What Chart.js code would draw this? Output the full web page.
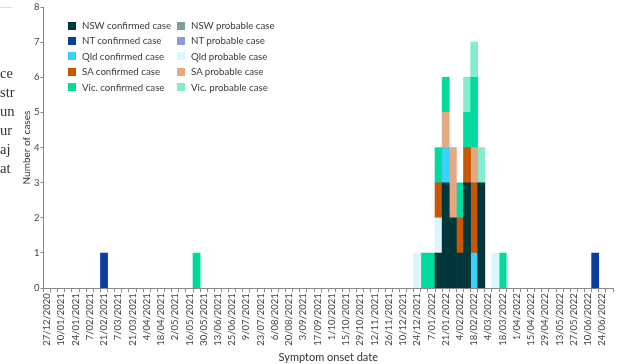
<!DOCTYPE html>
<html>
<head>
<meta charset="utf-8">
<script src="https://cdn.jsdelivr.net/npm/chart.js@4.4.0/dist/chart.umd.min.js"></script>
<style>
  body { margin: 0; background: #fff; }
  #wrap { position: relative; width: 619px; height: 364px; overflow: hidden; }
  #legend { position: absolute; left: 68px; top: 19px; display: grid; grid-template-columns: 109px 130px; grid-auto-rows: 15.4px; font: 9.7px Lato, sans-serif; color: #3a3a3a; }
  #legend .item { line-height: 12px; white-space: nowrap; }
  #legend .box { display: inline-block; width: 8px; height: 8px; margin-right: 6px; vertical-align: -0.5px; }
  #side { position: absolute; left: 0; top: 0; width: 15px; height: 220px; overflow: hidden; font: 14.5px "Liberation Serif", serif; color: #333; }
  #side div { position: absolute; left: 0; }
  #side .rule { top: 7px; width: 12px; height: 1px; background: #ddd; }
</style>
</head>
<body>
<div id="wrap">
  <canvas id="caseChart" width="619" height="364"></canvas>
  <div id="legend"></div>
  <div id="side">
    <div class="rule"></div>
    <div style="top:65px">ce</div>
    <div style="top:84px">str</div>
    <div style="top:103px">un</div>
    <div style="top:122px">ur</div>
    <div style="top:141px">aj</div>
    <div style="top:160px">at</div>
  </div>
</div>
<script>
const FONT = 'Lato, sans-serif';

// every second week is labelled on the axis
const tickLabels = ['27/12/2020', '10/01/2021', '24/01/2021', '7/02/2021', '21/02/2021', '7/03/2021',
    '21/03/2021', '4/04/2021', '18/04/2021', '2/05/2021', '16/05/2021', '30/05/2021', '13/06/2021',
    '25/06/2021', '9/07/2021', '23/07/2021', '6/08/2021', '20/08/2021', '3/09/2021', '17/09/2021',
    '1/10/2021', '15/10/2021', '29/10/2021', '12/11/2021', '26/11/2021', '10/12/2021', '24/12/2021',
    '7/01/2022', '21/01/2022', '4/02/2022', '18/02/2022', '4/03/2022', '18/03/2022', '1/04/2022',
    '15/04/2022', '29/04/2022', '13/05/2022', '27/05/2022', '10/06/2022', '24/06/2022'];

// weekly counts, 80 weeks
const nswConfirmed = [
    0,0,0,0,0,0,0,0,0,0, 0,0,0,0,0,0,0,0,0,0, 0,0,0,0,0,0,0,0,0,0, 0,0,0,0,0,0,0,0,0,0,
    0,0,0,0,0,0,0,0,0,0, 0,0,0,0,0,1,3,2,1,3, 0,3,0,0,0,0,0,0,0,0, 0,0,0,0,0,0,0,0,0,0];
const nswProbable = [
    0,0,0,0,0,0,0,0,0,0, 0,0,0,0,0,0,0,0,0,0, 0,0,0,0,0,0,0,0,0,0, 0,0,0,0,0,0,0,0,0,0,
    0,0,0,0,0,0,0,0,0,0, 0,0,0,0,0,0,0,0,0,0, 0,0,0,0,0,0,0,0,0,0, 0,0,0,0,0,0,0,0,0,0];
const ntConfirmed = [
    0,0,0,0,0,0,0,0,1,0, 0,0,0,0,0,0,0,0,0,0, 0,0,0,0,0,0,0,0,0,0, 0,0,0,0,0,0,0,0,0,0,
    0,0,0,0,0,0,0,0,0,0, 0,0,0,0,0,0,0,0,0,0, 0,0,0,0,0,0,0,0,0,0, 0,0,0,0,0,0,0,1,0,0];
const ntProbable = [
    0,0,0,0,0,0,0,0,0,0, 0,0,0,0,0,0,0,0,0,0, 0,0,0,0,0,0,0,0,0,0, 0,0,0,0,0,0,0,0,0,0,
    0,0,0,0,0,0,0,0,0,0, 0,0,0,0,0,0,0,0,0,0, 0,0,0,0,0,0,0,0,0,0, 0,0,0,0,0,0,0,0,0,0];
const qldConfirmed = [
    0,0,0,0,0,0,0,0,0,0, 0,0,0,0,0,0,0,0,0,0, 0,0,0,0,0,0,0,0,0,0, 0,0,0,0,0,0,0,0,0,0,
    0,0,0,0,0,0,0,0,0,0, 0,0,0,0,0,0,1,0,0,0, 1,0,0,0,0,0,0,0,0,0, 0,0,0,0,0,0,0,0,0,0];
const qldProbable = [
    0,0,0,0,0,0,0,0,0,0, 0,0,0,0,0,0,0,0,0,0, 0,0,0,0,0,0,0,0,0,0, 0,0,0,0,0,0,0,0,0,0,
    0,0,0,0,0,0,0,0,0,0, 0,0,1,0,0,1,0,0,0,0, 0,0,0,1,0,0,0,0,0,0, 0,0,0,0,0,0,0,0,0,0];
const saConfirmed = [
    0,0,0,0,0,0,0,0,0,0, 0,0,0,0,0,0,0,0,0,0, 0,0,0,0,0,0,0,0,0,0, 0,0,0,0,0,0,0,0,0,0,
    0,0,0,0,0,0,0,0,0,0, 0,0,0,0,0,1,0,0,1,1, 2,0,0,0,0,0,0,0,0,0, 0,0,0,0,0,0,0,0,0,0];
const saProbable = [
    0,0,0,0,0,0,0,0,0,0, 0,0,0,0,0,0,0,0,0,0, 0,0,0,0,0,0,0,0,0,0, 0,0,0,0,0,0,0,0,0,0,
    0,0,0,0,0,0,0,0,0,0, 0,0,0,0,0,0,1,2,0,0, 1,0,0,0,0,0,0,0,0,0, 0,0,0,0,0,0,0,0,0,0];
const vicConfirmed = [
    0,0,0,0,0,0,0,0,0,0, 0,0,0,0,0,0,0,0,0,0, 0,1,0,0,0,0,0,0,0,0, 0,0,0,0,0,0,0,0,0,0,
    0,0,0,0,0,0,0,0,0,0, 0,0,0,1,1,1,1,0,1,1, 2,0,0,0,1,0,0,0,0,0, 0,0,0,0,0,0,0,0,0,0];
const vicProbable = [
    0,0,0,0,0,0,0,0,0,0, 0,0,0,0,0,0,0,0,0,0, 0,0,0,0,0,0,0,0,0,0, 0,0,0,0,0,0,0,0,0,0,
    0,0,0,0,0,0,0,0,0,0, 0,0,0,0,0,0,0,0,0,1, 1,1,0,0,0,0,0,0,0,0, 0,0,0,0,0,0,0,0,0,0];

const weeks = [];
tickLabels.forEach(l => { weeks.push(l); weeks.push(''); });

const series = [
    { label: 'NSW confirmed case', data: nswConfirmed, color: '#01363a' },
    { label: 'NSW probable case', data: nswProbable, color: '#7f9c9c' },
    { label: 'NT confirmed case', data: ntConfirmed, color: '#0b3d9c' },
    { label: 'NT probable case', data: ntProbable, color: '#839fd3' },
    { label: 'Qld confirmed case', data: qldConfirmed, color: '#3ad1fb' },
    { label: 'Qld probable case', data: qldProbable, color: '#d8f6fc' },
    { label: 'SA confirmed case', data: saConfirmed, color: '#c75704' },
    { label: 'SA probable case', data: saProbable, color: '#e5a883' },
    { label: 'Vic. confirmed case', data: vicConfirmed, color: '#00da9c' },
    { label: 'Vic. probable case', data: vicProbable, color: '#84edd0' }
];

// legend, two columns
const legend = document.getElementById('legend');
series.forEach(s => {
    legend.innerHTML += `<div class="item"><span class="box" style="background:${s.color}"></span>${s.label}</div>`;
});

new Chart(document.getElementById('caseChart'), {
    type: 'bar',
    data: {
        labels: weeks,
        datasets: series.map(s => ({
            label: s.label,
            // empty weeks as null so no hairline bars get drawn
            data: s.data.map(v => v || null),
            backgroundColor: s.color,
            borderWidth: 0,
            barPercentage: 1,
            categoryPercentage: 1
        }))
    },
    options: {
        responsive: false,
        animation: false,
        layout: { padding: { left: 21, right: 6, top: 7, bottom: 0 } },
        plugins: { legend: { display: false }, tooltip: { enabled: false } },
        scales: {
            x: {
                stacked: true,
                afterFit: s => { s.paddingRight = 0; },
                grid: { drawOnChartArea: false, offset: true, tickLength: 4, color: '#888' },
                border: { color: '#888' },
                ticks: { autoSkip: false, maxRotation: 90, minRotation: 90, padding: 1, color: '#444', font: { family: FONT, size: 9.5 } },
                title: { display: true, text: 'Symptom onset date', color: '#333', font: { family: FONT, size: 11 }, padding: { top: 4, bottom: 0 } }
            },
            y: {
                stacked: true,
                min: 0,
                max: 8,
                grid: { drawOnChartArea: false, tickLength: 3, color: '#888' },
                border: { color: '#888' },
                ticks: { stepSize: 1, padding: 1, color: '#444', font: { family: FONT, size: 9.5 } },
                title: { display: true, text: 'Number of cases', color: '#333', font: { family: FONT, size: 10 }, padding: { top: 0, bottom: 0 } }
            }
        }
    }
});
</script>
</body>
</html>
